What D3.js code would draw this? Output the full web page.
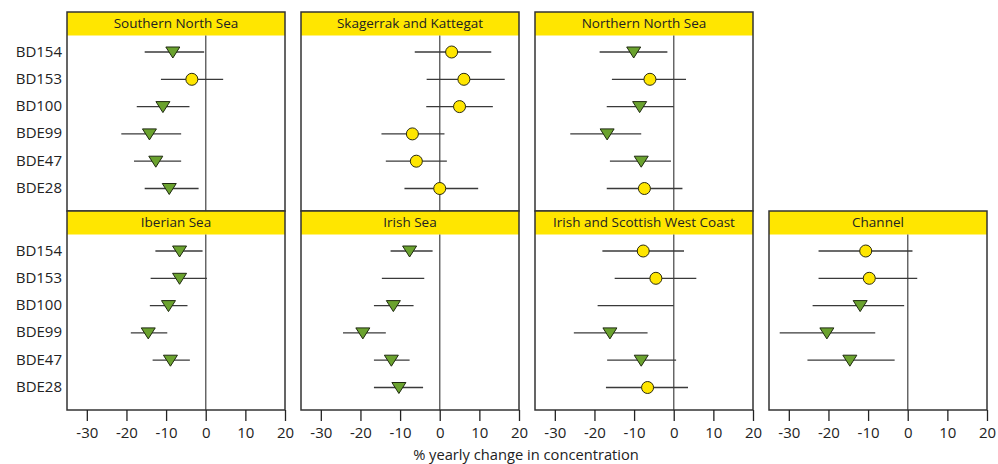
<!DOCTYPE html>
<html>
<head>
<meta charset="utf-8">
<script src="https://cdn.jsdelivr.net/npm/d3@7"></script>
<style>
  html, body { margin: 0; padding: 0; background: #fff; }
  svg { display: block; font-family: "Open Sans", "Noto Sans", sans-serif; }
</style>
</head>
<body>
<svg id="chart" width="998" height="464"></svg>
<script>
// ---- data ----
const compounds = ["BD154", "BD153", "BD100", "BDE99", "BDE47", "BDE28"];
const tickValues = [-30, -20, -10, 0, 10, 20];
const axisTitle = "% yearly change in concentration";

const regionNames = [
  "Southern North Sea", "Skagerrak and Kattegat", "Northern North Sea",
  "Iberian Sea", "Irish Sea", "Irish and Scottish West Coast", "Channel"
];
// estimate of yearly change (%) per region, in compound order; null = no marker
const estimates = [
  [-8.3, -3.5, -10.8, -14.2, -12.6, -9.2],
  [3.0, 6.1, 5.0, -6.9, -5.9, 0.0],
  [-10.1, -6.0, -8.6, -16.8, -8.2, -7.4],
  [-6.6, -6.6, -9.4, -14.5, -8.9, null],
  [-7.6, null, -11.7, -19.4, -12.2, -10.3],
  [-7.7, -4.5, null, -16.1, -8.2, -6.6],
  [-10.6, -9.7, -12.0, -20.4, -14.6, null]
];
const lowerLimits = [
  [-15.4, -11.3, -17.4, -21.3, -18.1, -15.4],
  [-6.3, -3.3, -3.4, -14.7, -13.6, -8.9],
  [-18.7, -15.6, -16.9, -26.1, -16.1, -16.9],
  [-12.7, -13.9, -14.1, -18.9, -13.4, null],
  [-12.4, -14.6, -16.6, -24.4, -16.6, -16.6],
  [-18.0, -14.9, -19.2, -25.2, -16.8, -17.1],
  [-22.5, -22.5, -24.0, -32.3, -25.3, null]
];
const upperLimits = [
  [-0.4, 4.4, -4.1, -6.2, -6.2, -1.8],
  [13.0, 16.4, 13.4, 1.2, 1.8, 9.7],
  [-1.6, 3.1, 0.0, -8.2, -0.7, 2.2],
  [-0.8, 0.3, -4.6, -9.7, -4.0, null],
  [-1.8, -3.9, -6.6, -13.6, -7.6, -4.2],
  [2.6, 5.7, 0.0, -6.6, 0.6, 3.6],
  [1.2, 2.4, -0.9, -8.2, -3.3, null]
];
// marker type: "down" = significant decrease (green triangle), "none" = no significant trend (yellow circle)
const markerTypes = [
  ["down", "none", "down", "down", "down", "down"],
  ["none", "none", "none", "none", "none", "none"],
  ["down", "none", "down", "down", "down", "none"],
  ["down", "down", "down", "down", "down", null],
  ["down", null, "down", "down", "down", "down"],
  ["none", "none", null, "down", "down", "none"],
  ["none", "none", "down", "down", "down", null]
];
// panel grid positions (row, column)
const panelRow = [0, 0, 0, 1, 1, 1, 1];
const panelCol = [0, 1, 2, 0, 1, 2, 3];

// ---- layout ----
const svg = d3.select("#chart");
const colLeft0 = 67, colStep = 234, panelW = 218;
const rowTop = [12, 211];
const rowBottom = [211, 410];
const headerH = 23.5;
const yellow = "#ffe600";

regionNames.forEach((name, i) => {
  const r = panelRow[i], c = panelCol[i];
  const left = colLeft0 + c * colStep;
  const top = rowTop[r], bottom = rowBottom[r];
  const hb = top + headerH;

  const x = d3.scaleLinear().domain([-35, 20]).range([left, left + panelW]);
  const y = d3.scalePoint().domain(compounds).range([hb + 16.5, bottom - 22.5]);

  const g = svg.append("g");

  g.append("rect").attr("x", left).attr("y", top).attr("width", panelW).attr("height", bottom - top)
    .attr("fill", "#fff");
  g.append("rect").attr("x", left).attr("y", top).attr("width", panelW).attr("height", headerH)
    .attr("fill", yellow);
  g.append("text").attr("x", left + panelW / 2).attr("y", top + headerH / 2 + 1)
    .attr("text-anchor", "middle").attr("dominant-baseline", "middle")
    .attr("font-size", 13.5).attr("fill", "#222").text(name);

  g.append("line").attr("x1", x(0)).attr("x2", x(0)).attr("y1", hb).attr("y2", bottom)
    .attr("stroke", "#666").attr("stroke-width", 1.5);

  compounds.forEach((cmp, k) => {
    const lo = lowerLimits[i][k], hi = upperLimits[i][k];
    if (lo == null || hi == null) return;
    g.append("line").attr("x1", x(lo)).attr("x2", x(hi)).attr("y1", y(cmp)).attr("y2", y(cmp))
      .attr("stroke", "#3a3a3a").attr("stroke-width", 1.3);
  });

  compounds.forEach((cmp, k) => {
    const v = estimates[i][k], m = markerTypes[i][k];
    if (v == null || m == null) return;
    const cx = x(v), cy = y(cmp);
    if (m === "down") {
      g.append("path")
        .attr("d", `M${cx - 7},${cy - 5}L${cx + 7},${cy - 5}L${cx},${cy + 6}Z`)
        .attr("fill", "#6aa22e").attr("stroke", "#1f2a10").attr("stroke-width", 1);
    } else {
      g.append("circle").attr("cx", cx).attr("cy", cy).attr("r", 6)
        .attr("fill", yellow).attr("stroke", "#2a2a10").attr("stroke-width", 1);
    }
  });

  g.append("rect").attr("x", left).attr("y", top).attr("width", panelW).attr("height", bottom - top)
    .attr("fill", "none").attr("stroke", "#333").attr("stroke-width", 1.5);

  if (c === 0) {
    compounds.forEach(cmp => {
      svg.append("text").attr("x", 62).attr("y", y(cmp) + 0.5)
        .attr("text-anchor", "end").attr("dominant-baseline", "middle")
        .attr("font-size", 15).attr("fill", "#222").text(cmp);
    });
  }

  if (r === 1) {
    const ax = svg.append("g").attr("transform", `translate(0,${bottom})`)
      .call(d3.axisBottom(x).tickValues(tickValues).tickSize(11).tickPadding(6)
        .tickFormat(d => String(d)));
    ax.select(".domain").remove();
    ax.selectAll(".tick line").attr("stroke", "#222").attr("stroke-width", 1.3);
    ax.selectAll(".tick text").attr("font-size", 15).attr("fill", "#222")
      .attr("font-family", "\"Open Sans\", \"Noto Sans\", sans-serif");
  }
});

svg.append("text").attr("x", 526).attr("y", 456).attr("text-anchor", "middle")
  .attr("dominant-baseline", "middle").attr("font-size", 14.7).attr("fill", "#222").text(axisTitle);
</script>
</body>
</html>
